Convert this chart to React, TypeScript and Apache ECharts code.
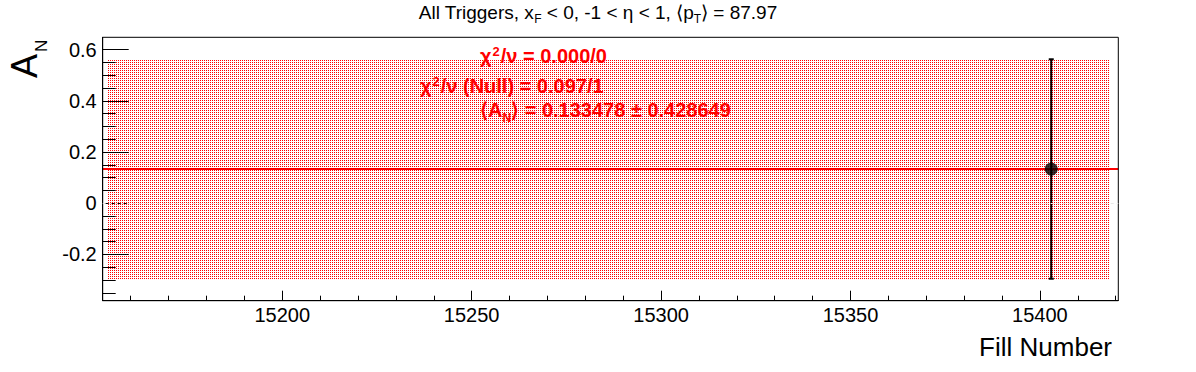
import React, { useEffect, useRef } from "react";
import * as echarts from "echarts";

// ---- data ----
const xRange = [15152.6, 15420.7];
const yRange = [-0.381, 0.648];
const fillNumbers = [15403];
const asymValues = [0.133478];
const asymErrors = [0.428649];
const fitMean = 0.133478;
const fitError = 0.428649;
const bandX = [15154, 15418.6];
const majorXTicks = [15200, 15250, 15300, 15350, 15400];
const minorXTicks = [
  15160, 15170, 15180, 15190, 15210, 15220, 15230, 15240, 15260, 15270, 15280, 15290,
  15310, 15320, 15330, 15340, 15360, 15370, 15380, 15390, 15410, 15420,
];
const majorYTicks = [-0.2, 0, 0.2, 0.4, 0.6];
const minorYTicks = [-0.35, -0.3, -0.25, -0.15, -0.1, -0.05, 0.05, 0.1, 0.15, 0.25, 0.3, 0.35, 0.45, 0.5, 0.55];
const titleText = "{t|All Triggers, x}{s|F}{t| < 0, -1 < η < 1, ⟨p}{s|T}{t|⟩ = 87.97}";
const statLines = [
  "{b|χ}{p|2}{b|/ν = 0.000/0}",
  "{b|χ}{p|2}{b|/ν (Null) = 0.097/1}",
  "{b|⟨A}{s|N}{b|⟩ = 0.133478 ± 0.428649}",
];

const FONT = "'Liberation Sans', Arial, Helvetica, sans-serif";

function makePattern() {
  const c = document.createElement("canvas");
  c.width = 2;
  c.height = 2;
  const ctx = c.getContext("2d")!;
  ctx.fillStyle = "#fff";
  ctx.fillRect(0, 0, 2, 2);
  ctx.fillStyle = "#ff0000";
  ctx.fillRect(0, 0, 1, 1);
  return c;
}

export default function App() {
  const ref = useRef<HTMLDivElement>(null);
  useEffect(() => {
    document.body.style.margin = "0";
    const chart = echarts.init(ref.current!, undefined, { renderer: "svg" });
    const pattern = makePattern();
    const axisCommon = {
      type: "value" as const,
      min: xRange[0],
      max: xRange[1],
      splitLine: { show: false },
      z: 10,
    };
    const yCommon = {
      type: "value" as const,
      min: yRange[0],
      max: yRange[1],
      splitLine: { show: false },
      z: 10,
    };
    chart.setOption({
      animation: false,
      grid: {
        left: 102.7,
        right: 1196 - 1118.3,
        top: 37.3,
        bottom: 372 - 300.7,
        show: true,
        borderColor: "#000",
        borderWidth: 1,
        backgroundColor: "transparent",
        z: 10,
      },
      xAxis: [
        {
          ...axisCommon,
          position: "bottom",
          axisLine: { show: true, onZero: false, lineStyle: { color: "#000", width: 1 } },
          axisTick: { show: true, inside: true, length: 10, customValues: majorXTicks, lineStyle: { color: "#000" } },
          axisLabel: {
            show: true,
            customValues: majorXTicks,
            color: "#000",
            fontSize: 20,
            fontFamily: FONT,
            margin: 4,
            formatter: (v: number) => String(Math.round(v)),
          },
        },
        {
          ...axisCommon,
          position: "bottom",
          axisLine: { show: false, onZero: false },
          axisTick: { show: true, inside: true, length: 5, customValues: minorXTicks, lineStyle: { color: "#000" } },
          axisLabel: { show: false },
        },
      ],
      yAxis: [
        {
          ...yCommon,
          position: "left",
          axisLine: { show: true, onZero: false, lineStyle: { color: "#000", width: 1 } },
          axisTick: { show: true, inside: true, length: 26, customValues: majorYTicks, lineStyle: { color: "#000" } },
          axisLabel: {
            show: true,
            customValues: majorYTicks,
            color: "#000",
            fontSize: 20,
            fontFamily: FONT,
            margin: 6,
            formatter: (v: number) => String(Math.round(v * 10) / 10),
          },
        },
        {
          ...yCommon,
          position: "left",
          axisLine: { show: false, onZero: false },
          axisTick: { show: true, inside: true, length: 13, customValues: minorYTicks, lineStyle: { color: "#000" } },
          axisLabel: { show: false },
        },
      ],
      series: [
        {
          type: "custom",
          xAxisIndex: 0,
          yAxisIndex: 0,
          z: 1,
          data: [[bandX[0], bandX[1], fitMean - fitError, fitMean + fitError]],
          renderItem: (params: any, api: any) => {
            const p1 = api.coord([api.value(0), api.value(3)]);
            const p2 = api.coord([api.value(1), api.value(2)]);
            return {
              type: "rect",
              shape: {
                x: Math.round(p1[0]),
                y: Math.round(p1[1]),
                width: Math.round(p2[0]) - Math.round(p1[0]),
                height: Math.round(p2[1]) - Math.round(p1[1]),
              },
              style: { fill: { image: pattern, repeat: "repeat" } as any },
              silent: true,
            };
          },
        },
        {
          type: "line",
          xAxisIndex: 0,
          yAxisIndex: 0,
          z: 3,
          symbol: "none",
          lineStyle: { color: "#ff0000", width: 2 },
          data: [
            [xRange[0], fitMean],
            [xRange[1], fitMean],
          ],
          markLine: {
            silent: true,
            symbol: "none",
            label: { show: false },
            lineStyle: { color: "#e8e8e8", type: [3, 3], width: 1 },
            data: [{ yAxis: 0 }],
            z: 11,
          },
        },
        {
          type: "custom",
          xAxisIndex: 0,
          yAxisIndex: 0,
          z: 4,
          data: fillNumbers.map((f, i) => [f, asymValues[i] - asymErrors[i], asymValues[i] + asymErrors[i]]),
          renderItem: (params: any, api: any) => {
            const lo = api.coord([api.value(0), api.value(1)]);
            const hi = api.coord([api.value(0), api.value(2)]);
            const x = lo[0];
            return {
              type: "group",
              children: [
                { type: "line", shape: { x1: x, y1: lo[1], x2: x, y2: hi[1] }, style: { stroke: "#000", lineWidth: 2 } },
                { type: "line", shape: { x1: x - 2.5, y1: lo[1], x2: x + 2.5, y2: lo[1] }, style: { stroke: "#000", lineWidth: 2 } },
                { type: "line", shape: { x1: x - 2.5, y1: hi[1], x2: x + 2.5, y2: hi[1] }, style: { stroke: "#000", lineWidth: 2 } },
              ],
            };
          },
        },
        {
          type: "scatter",
          xAxisIndex: 0,
          yAxisIndex: 0,
          z: 5,
          symbol: "circle",
          symbolSize: 13,
          itemStyle: { color: "#000" },
          data: fillNumbers.map((f, i) => [f, asymValues[i]]),
        },
      ],
      graphic: [
        {
          type: "text",
          left: "center",
          top: 3,
          style: {
            text: titleText,
            rich: {
              t: { fontSize: 19, fontFamily: FONT, fill: "#000" },
              s: { fontSize: 12, fontFamily: FONT, fill: "#000", padding: [12, 0, 0, 0] },
            },
          },
        },
        ...statLines.map((line, i) => ({
          type: "text",
          x: [480, 420, 480][i],
          y: [56, 86, 110][i],
          z: 20,
          style: {
            text: line,
            textVerticalAlign: "middle",
            rich: {
              b: { fontSize: 20, fontWeight: "bold", fontFamily: FONT, fill: "#ff0000" },
              p: { fontSize: 13, fontWeight: "bold", fontFamily: FONT, fill: "#ff0000", padding: [0, 1, 10, 1] },
              s: { fontSize: 12, fontWeight: "bold", fontFamily: FONT, fill: "#ff0000", padding: [16, 0, 0, 0] },
            },
          },
        })),
        {
          type: "text",
          x: 24,
          y: 78,
          rotation: Math.PI / 2,
          style: {
            text: "A",
            fontSize: 36,
            fontFamily: FONT,
            fill: "#000",
            textAlign: "left",
            textVerticalAlign: "middle",
          },
        },
        {
          type: "text",
          x: 41,
          y: 52,
          rotation: Math.PI / 2,
          style: {
            text: "N",
            fontSize: 17,
            fontFamily: FONT,
            fill: "#000",
            textAlign: "left",
            textVerticalAlign: "middle",
          },
        },
        {
          type: "text",
          right: 1196 - 1112,
          top: 334,
          style: { text: "Fill Number", fontSize: 26, fontFamily: FONT, fill: "#000" },
        },
      ],
    });
    return () => chart.dispose();
  }, []);
  return <div ref={ref} style={{ width: 1196, height: 372 }} />;
}
